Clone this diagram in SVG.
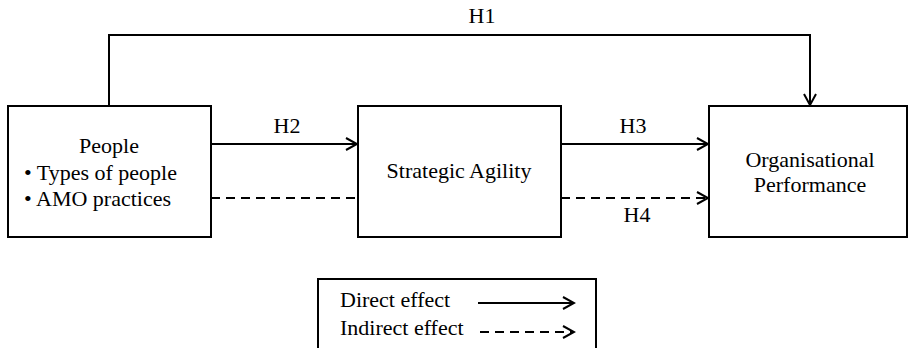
<svg xmlns="http://www.w3.org/2000/svg" width="908" height="348" viewBox="0 0 908 348">
<style>
.box{fill:#fff;stroke:#000;stroke-width:2}
.ln{fill:none;stroke:#000;stroke-width:2}
.ds{stroke-dasharray:9,6}
text{font-family:'Liberation Serif','Times New Roman',serif;font-size:22px;fill:#000}
</style>
<defs>
<marker id="ah" markerWidth="14" markerHeight="14" refX="12" refY="7" orient="auto" markerUnits="userSpaceOnUse">
<path d="M1,1 L12,7 L1,13" fill="none" stroke="#000" stroke-width="2"/>
</marker>
</defs>
<g id="connectors">
<path class="ln" d="M109,106 V35 H810 V105" marker-end="url(#ah)"/>
<line class="ln" x1="211" y1="144" x2="357" y2="144" marker-end="url(#ah)"/>
<line class="ln ds" x1="211" y1="198" x2="358" y2="198"/>
<line class="ln" x1="561" y1="144" x2="708" y2="144" marker-end="url(#ah)"/>
<line class="ln ds" x1="561" y1="198" x2="708" y2="198" marker-end="url(#ah)"/>
<text font-family="Liberation Serif, serif" x="482" y="23" text-anchor="middle">H1</text>
<text font-family="Liberation Serif, serif" x="287" y="133" text-anchor="middle">H2</text>
<text font-family="Liberation Serif, serif" x="633" y="133" text-anchor="middle">H3</text>
<text font-family="Liberation Serif, serif" x="637" y="222" text-anchor="middle">H4</text>
</g>
<g id="people">
<rect class="box" x="8" y="106" width="203" height="131"/>
<text font-family="Liberation Serif, serif" x="109" y="153" text-anchor="middle">People</text>
<text font-family="Liberation Serif, serif" x="24" y="180">• Types  of people</text>
<text font-family="Liberation Serif, serif" x="24" y="206">• AMO practices</text>
</g>
<g id="agility">
<rect class="box" x="358" y="106" width="203" height="131"/>
<text font-family="Liberation Serif, serif" x="459" y="178" text-anchor="middle">Strategic Agility</text>
</g>
<g id="performance">
<rect class="box" x="709" y="106" width="198" height="131"/>
<text font-family="Liberation Serif, serif" x="810" y="167" text-anchor="middle">Organisational</text>
<text font-family="Liberation Serif, serif" x="810" y="192" text-anchor="middle">Performance</text>
</g>
<g id="legend">
<rect class="box" x="318" y="279" width="278" height="80"/>
<text font-family="Liberation Serif, serif" x="340" y="307">Direct effect</text>
<text font-family="Liberation Serif, serif" x="340" y="335">Indirect effect</text>
<line class="ln" x1="478" y1="303" x2="574" y2="303" marker-end="url(#ah)"/>
<line class="ln ds" x1="480" y1="332" x2="574" y2="332" marker-end="url(#ah)"/>
</g>
</svg>
